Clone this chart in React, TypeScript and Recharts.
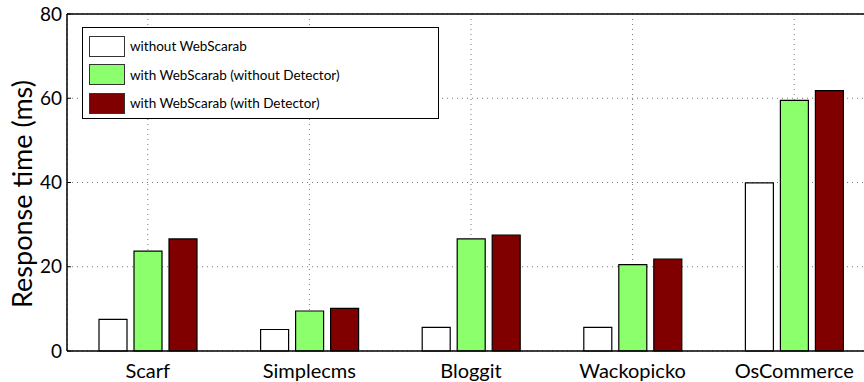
import React from 'react';
import {
  BarChart,
  Bar,
  XAxis,
  YAxis,
  CartesianGrid,
} from 'recharts';

const apps = ['Scarf', 'Simplecms', 'Bloggit', 'Wackopicko', 'OsCommerce'];
const withoutProxy = [7.5, 5.1, 5.6, 5.6, 39.9];
const proxyNoDetector = [23.7, 9.5, 26.6, 20.5, 59.5];
const proxyDetector = [26.6, 10.1, 27.5, 21.8, 61.8];
const yTicks = [0, 20, 40, 60, 80];

const SERIES = [
  { key: 'plain', label: 'without WebScarab', color: '#ffffff' },
  { key: 'noDet', label: 'with WebScarab (without Detector)', color: '#8cff6c' },
  { key: 'det', label: 'with WebScarab (with Detector)', color: '#800000' },
];

const FONT = 'Lato, "Open Sans", sans-serif';

const data = apps.map((name, i) => ({
  name,
  plain: withoutProxy[i],
  noDet: proxyNoDetector[i],
  det: proxyDetector[i],
}));

// boxed legend, like the matlab one; sits over the plot so it doesn't push the axes
const LegendBox = () => (
  <div
    style={{
      position: 'absolute',
      left: 82,
      top: 27,
      border: '1.5px solid #000',
      background: '#fff',
      width: 357,
      height: 92,
      padding: '4px 0 0 6px',
      fontFamily: FONT,
      fontSize: 13.5,
      boxSizing: 'border-box',
    }}
  >
    {SERIES.map((s) => (
      <div key={s.key} style={{ display: 'flex', alignItems: 'center', height: 28.5 }}>
        <div
          style={{
            width: 36,
            height: 21,
            background: s.color,
            border: '1.5px solid #333',
            boxSizing: 'border-box',
            marginRight: 5,
          }}
        />
        <span style={{ color: '#000' }}>{s.label}</span>
      </div>
    ))}
  </div>
);

const YTitle = () => (
  <text
    transform="translate(32,194) rotate(-90)"
    textAnchor="middle"
    fill="#000"
    fontSize={27}
    fontFamily={FONT}
  >
    Response time (ms)
  </text>
);

export default function App() {
  return (
    <div
      style={{
        position: 'absolute',
        left: 0,
        top: 0,
        width: 864,
        height: 382,
        overflow: 'hidden',
        background: '#fff',
      }}
    >
      <BarChart
        width={880}
        height={382}
        data={data}
        margin={{ top: 13, right: 5, left: 0, bottom: 0 }}
        barSize={28}
        barGap={7}
      >
        <CartesianGrid stroke="#777" strokeDasharray="1 4" />
        <XAxis
          dataKey="name"
          height={31}
          axisLine={{ stroke: '#000', strokeWidth: 1.5 }}
          tickLine={false}
          tickMargin={7}
          tick={{ fill: '#000', fontSize: 20, fontFamily: FONT }}
        />
        {/* top frame line with small inward ticks */}
        <XAxis
          xAxisId="top"
          dataKey="name"
          orientation="top"
          height={1}
          axisLine={{ stroke: '#000', strokeWidth: 1.5 }}
          tickLine={{ stroke: '#000' }}
          tickSize={-4}
          tick={false}
        />
        <YAxis
          domain={[0, 80]}
          ticks={yTicks}
          width={67}
          axisLine={{ stroke: '#000', strokeWidth: 1.5 }}
          tickLine={{ stroke: '#000' }}
          tickSize={-4}
          tickMargin={9}
          tick={{ fill: '#000', fontSize: 19, fontFamily: FONT }}
          label={<YTitle />}
        />
        {SERIES.map((s) => (
          <Bar
            key={s.key}
            dataKey={s.key}
            fill={s.color}
            stroke="#000"
            strokeWidth={1.2}
            isAnimationActive={false}
          />
        ))}
      </BarChart>
      <LegendBox />
    </div>
  );
}
